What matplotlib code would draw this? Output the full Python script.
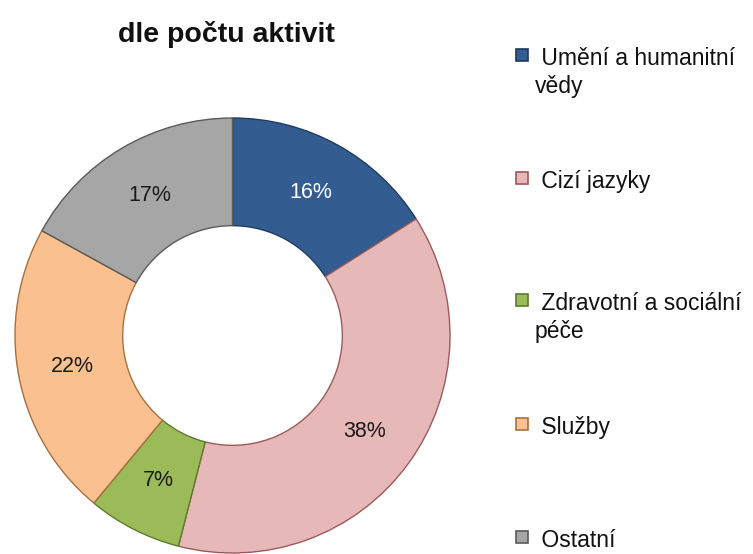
import matplotlib
matplotlib.use("Agg")
import matplotlib.pyplot as plt
from matplotlib.patches import Rectangle

plt.rcParams['font.family'] = ['Liberation Sans', 'DejaVu Sans']

categories = ["Umění a humanitní\nvědy", "Cizí jazyky", "Zdravotní a sociální\npéče", "Služby", "Ostatní"]
values = [16, 38, 7, 22, 17]
colors = ["#335D91", "#E6B8B7", "#9BBB59", "#FAC08F", "#A6A6A6"]
edges = ["#1F3A5F", "#9C5A5A", "#5E7A2E", "#A8703F", "#5A5A5A"]
label_colors = ["white", "#1a1a1a", "#1a1a1a", "#1a1a1a", "#1a1a1a"]

W, H = 753, 554
fig = plt.figure(figsize=(W / 100, H / 100), dpi=100)
cx, cy, R = 232.5, 335.5, 217.5
ax = fig.add_axes([(cx - R) / W, (H - cy - R) / H, 2 * R / W, 2 * R / H])

wedges, texts, autotexts = ax.pie(
    values, colors=colors, startangle=90, counterclock=False, radius=1,
    autopct=lambda p: f"{p:.0f}%", pctdistance=0.75,
    wedgeprops=dict(width=0.495, linewidth=1.0),
    textprops=dict(fontsize=15.5))
for w, ec in zip(wedges, edges):
    w.set_edgecolor(ec)
for t, c in zip(autotexts, label_colors):
    t.set_color(c)
ax.set_xlim(-1.0, 1.0)
ax.set_ylim(-1.0, 1.0)
ax.set_aspect('equal')
ax.axis('off')

fig.text(226.5 / W, 1 - 42 / H, "dle počtu aktivit", ha='center', va='baseline',
         fontsize=20.5, fontweight='bold', color='#111111')

# manual legend
marker_y = [55, 178, 300, 424, 537]  # pixel centers of markers
for cat, col, ec, y in zip(categories, colors, edges, marker_y):
    size = 12
    fig.patches.append(Rectangle((516 / W, (H - y - size / 2) / H), size / W, size / H,
                                 transform=fig.transFigure, facecolor=col, edgecolor=ec,
                                 linewidth=1.2))
    lines = cat.split("\n")
    for i, line in enumerate(lines):
        txt = (" " + line) if i == 0 else line
        base = y + 10 + 28 * i
        fig.text(535 / W, (H - base) / H, txt, ha='left', va='baseline',
                 fontsize=16.5, color='#111111')

fig.savefig("out.png", dpi=100, facecolor='white')
